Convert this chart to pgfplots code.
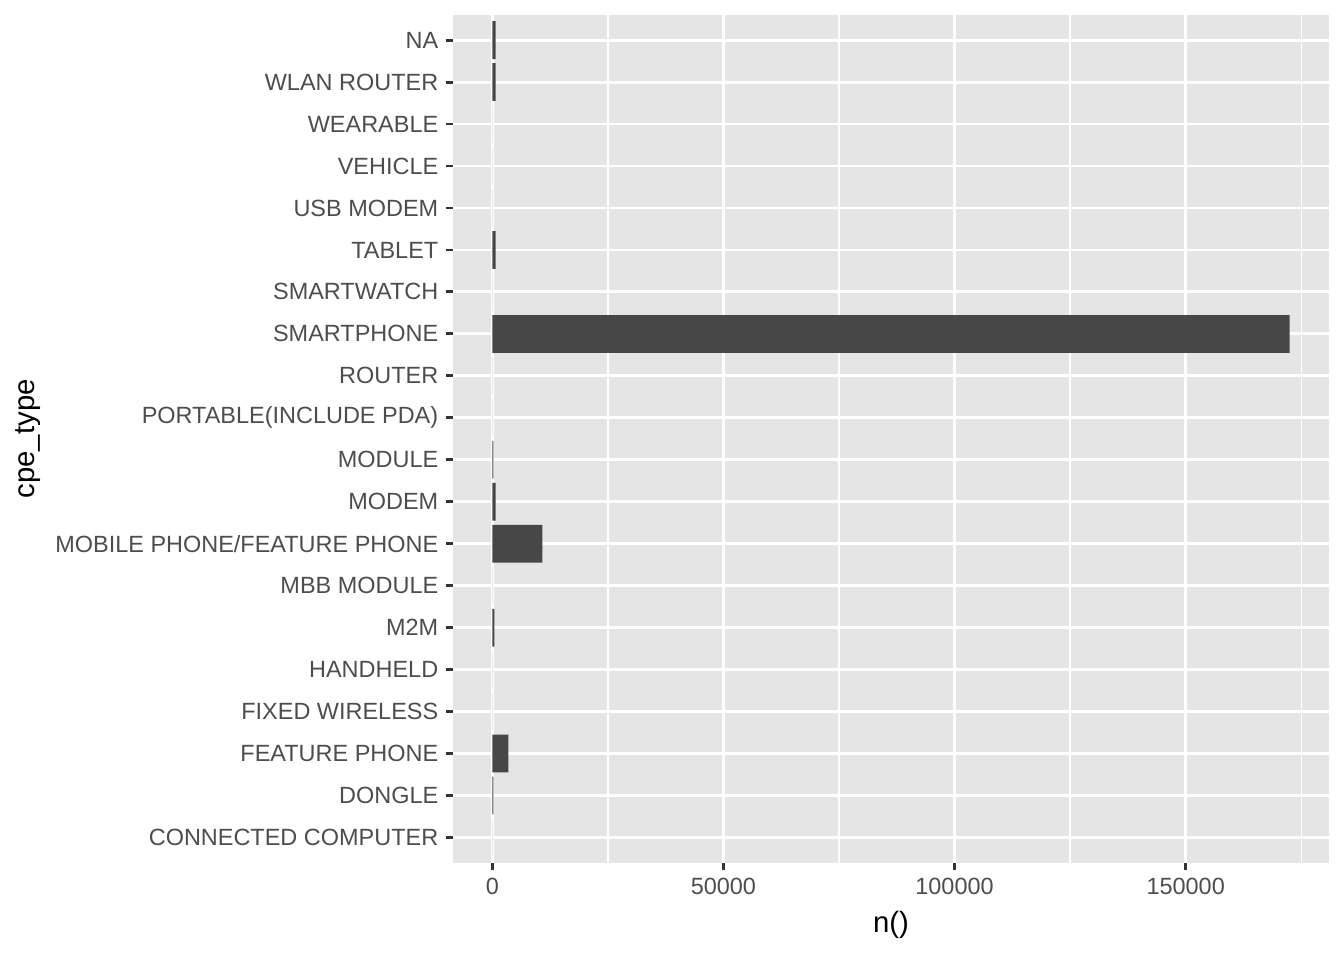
\documentclass[border=0pt]{standalone}
\usepackage{pgfplots}
\pgfplotsset{compat=1.18}
\usepackage{fontspec}
\setmainfont{Liberation Sans}
\definecolor{panelbg}{HTML}{E5E5E5}
\definecolor{barfill}{HTML}{474747}
\definecolor{ticklab}{HTML}{4D4D4D}
\definecolor{tickcol}{HTML}{333333}
\begin{document}
\begin{tikzpicture}
\useasboundingbox (-169.875pt,-36.5pt) rectangle (334.125pt,323.5pt);
\begin{axis}[
  at={(0,0)}, anchor=south west,
  scale only axis,
  width=328.5pt, height=317.9pt,
  xmin=-8500, xmax=181000,
  ymin=0.4, ymax=20.6,
  axis background/.style={fill=panelbg},
  axis line style={draw=none},
  xtick={0,50000,100000,150000},
  minor xtick={25000,75000,125000,175000},
  ytick={1,...,20},
  yticklabels={CONNECTED COMPUTER,DONGLE,FEATURE PHONE,FIXED WIRELESS,HANDHELD,M2M,MBB MODULE,MOBILE PHONE/FEATURE PHONE,MODEM,MODULE,PORTABLE(INCLUDE PDA),ROUTER,SMARTPHONE,SMARTWATCH,TABLET,USB MODEM,VEHICLE,WEARABLE,WLAN ROUTER,NA},
  xtick pos=bottom, ytick pos=left,
  tick align=outside,
  major tick length=2.75pt,
  minor tick length=0pt,
  every tick/.style={tickcol, line width=1.07pt},
  xmajorgrids, ymajorgrids, xminorgrids,
  major grid style={white, line width=1.07pt},
  minor grid style={white, line width=0.53pt},
  ticklabel style={font=\fontsize{8.8}{10}\selectfont, text=ticklab},
  yticklabel style={xshift=0.75pt},
  xticklabel style={yshift=0.4pt},
  /pgf/number format/assume math mode=true,
  /pgf/number format/fixed,
  /pgf/number format/set thousands separator={},
  scaled x ticks=false,
  xlabel={n()},
  ylabel={cpe\_type},
  label style={font=\fontsize{11}{13}\selectfont, text=black},
  xlabel style={at={(axis description cs:0.5,-0.0736)}, anchor=center},
  ylabel style={at={(axis description cs:-0.4846,0.5)}, anchor=center, rotate=0},
  clip=false,
]
\addplot[xbar, bar width=0.9, bar shift=0pt, fill=barfill, draw=none] coordinates {
  (0,1)
  (250,2)
  (3500,3)
  (0,4)
  (0,5)
  (450,6)
  (0,7)
  (10850,8)
  (700,9)
  (250,10)
  (0,11)
  (0,12)
  (172500,13)
  (0,14)
  (700,15)
  (0,16)
  (0,17)
  (0,18)
  (700,19)
  (700,20)
};
\end{axis}
\end{tikzpicture}
\end{document}
